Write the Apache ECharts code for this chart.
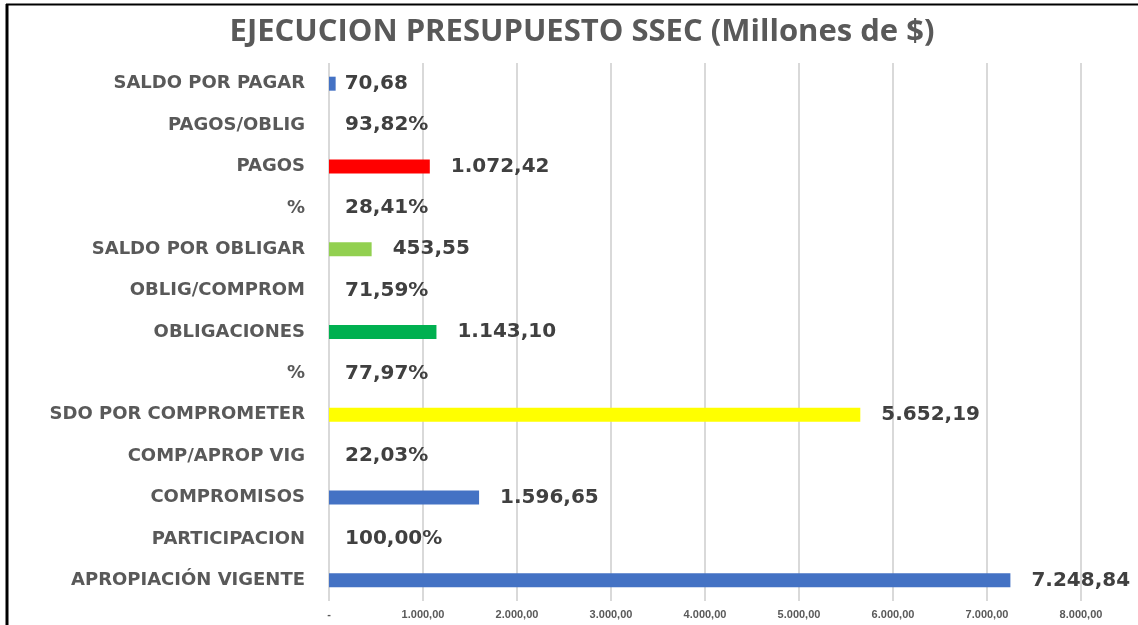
<!DOCTYPE html>
<html>
<head>
<meta charset="utf-8">
<script src="https://cdn.jsdelivr.net/npm/echarts@6/dist/echarts.min.js"></script>
<style>html,body{margin:0;padding:0;background:#fff;}#c{width:1138px;height:625px;}</style>
</head>
<body>
<div id="c"></div>
<script>
var categories = ['APROPIACIÓN VIGENTE','PARTICIPACION','COMPROMISOS','COMP/APROP VIG','SDO POR COMPROMETER','%','OBLIGACIONES','OBLIG/COMPROM','SALDO POR OBLIGAR','%','PAGOS','PAGOS/OBLIG','SALDO POR PAGAR'];
var values = [7248.84, 1.0000, 1596.65, 0.2203, 5652.19, 0.7797, 1143.10, 0.7159, 453.55, 0.2841, 1072.42, 0.9382, 70.68];
var isPercent = [false, true, false, true, false, true, false, true, false, true, false, true, false];
var barColors = ['#4472C4', null, '#4472C4', null, '#FFFF00', null, '#00B050', null, '#92D050', null, '#FF0000', null, '#4472C4'];

function fmtEs(v) {
  var s = v.toFixed(2).split('.');
  var intPart = s[0].replace(/\B(?=(\d{3})+(?!\d))/g, '.');
  return intPart + ',' + s[1];
}

var chart = echarts.init(document.getElementById('c'));
var data = values.map(function (v, i) {
  return {
    value: v,
    itemStyle: { color: isPercent[i] ? 'rgba(0,0,0,0)' : barColors[i] },
    label: { distance: isPercent[i] ? 16 : (v < 200 ? 9 : 21) }
  };
});

chart.setOption({
  backgroundColor: '#ffffff',
  animation: false,
  title: {
    text: 'EJECUCION PRESUPUESTO SSEC (Millones de $)',
    left: 577,
    textAlign: 'center',
    top: 12,
    textStyle: { fontFamily: 'Open Sans', fontWeight: 'bold', fontSize: 31, color: '#595959' }
  },
  grid: { left: 329, right: 57, top: 63, bottom: 24, containLabel: false },
  xAxis: {
    type: 'value',
    min: 0, max: 8000, interval: 1000,
    axisLine: { show: false },
    axisTick: { show: false },
    splitLine: { show: true, lineStyle: { color: '#d9d9d9', width: 2 } },
    axisLabel: {
      margin: 8,
      fontFamily: 'Liberation Sans', fontSize: 11, fontWeight: 'bold', color: '#595959',
      formatter: function (v) { return v === 0 ? '-' : fmtEs(v); }
    }
  },
  yAxis: {
    type: 'category',
    data: categories,
    axisLine: { show: false },
    axisTick: { show: false },
    axisLabel: {
      margin: 24,
      fontFamily: 'DejaVu Sans', fontWeight: 'bold', fontSize: 18, color: '#595959'
    }
  },
  series: [{
    type: 'bar',
    data: data,
    barWidth: 14,
    label: {
      show: true,
      position: 'right',
      fontFamily: 'DejaVu Sans', fontWeight: 'bold', fontSize: 20, color: '#404040',
      formatter: function (p) {
        var i = p.dataIndex;
        return isPercent[i] ? fmtEs(values[i] * 100) + '%' : fmtEs(values[i]);
      }
    }
  }],
  graphic: [
    { type: 'line', shape: { x1: 7, y1: 4, x2: 7, y2: 625 }, style: { stroke: '#000', lineWidth: 3 } },
    { type: 'line', shape: { x1: 6, y1: 4.5, x2: 1138, y2: 4.5 }, style: { stroke: '#000', lineWidth: 2 } }
  ]
});
</script>
</body>
</html>
